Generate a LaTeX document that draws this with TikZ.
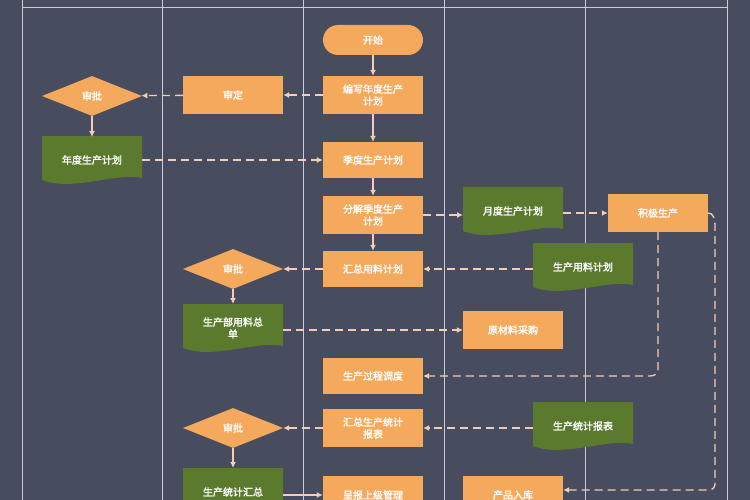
\documentclass[tikz,border=0pt]{standalone}
\usepackage{fontspec}
\newfontfamily\cjk[FakeBold=2]{Noto Sans CJK SC}
\usetikzlibrary{shapes.geometric,arrows.meta}
\definecolor{bgcol}{HTML}{474C5E}
\definecolor{boxcol}{HTML}{F5A95D}
\definecolor{doccol}{HTML}{5B7A2E}
\definecolor{linecol}{HTML}{F2CDB8}
\definecolor{lanecol}{HTML}{C9CCD4}
\newcommand{\docshape}[3]{%
  \fill[doccol] (#1-50,#2-24) -- (#1+50,#2-24) -- (#1+50,#2+18)
    .. controls (#1+25,#2+12) and (#1-20,#2+32) .. (#1-50,#2+20) -- cycle;
  \node[txt,text width=90pt,align=center] (#3) at (#1,#2) {};}
\begin{document}
\begin{tikzpicture}[x=1pt,y=-1pt,
  txt/.style={font=\cjk\fontsize{10}{12}\selectfont,text=white,inner sep=0pt},
  proc/.style={txt,fill=boxcol,minimum width=100pt,minimum height=38pt,text width=92pt,align=center},
  term/.style={proc,rounded corners=15pt,minimum height=30pt},
  check/.style={txt,diamond,fill=boxcol,aspect=2.5,minimum width=100pt,minimum height=40pt,inner sep=0pt},
  flow/.style={draw=linecol,line width=1.3pt,-{Latex[length=6pt,width=6pt]}},
  info/.style={flow,dash pattern=on 8pt off 5pt}]
\useasboundingbox (0,0) rectangle (750,500);
\clip (0,0) rectangle (750,500);
\fill[bgcol] (0,0) rectangle (750,500);
% swimlanes
\foreach \x in {22,162,303,444,585,727}
  \draw[lanecol,line width=0.8pt] (\x,0) -- (\x,500);
\draw[lanecol,line width=0.8pt] (22,7) -- (727,7);
% first column
\node[check] (chk1) at (92,96) {审批};
\docshape{92}{160}{year}
\node[txt] at (year) {年度生产计划};
% second column
\node[proc] (fix) at (233,95) {审定};
\node[check] (chk2) at (233,269) {审批};
\docshape{233}{328}{sumlist}
\node[txt,text width=90pt,align=center] at (sumlist) {生产部用料总\\单};
\node[check] (chk3) at (233,428) {审批};
\docshape{233}{492}{statsum}
\node[txt] at (statsum) {生产统计汇总};
% third column
\node[term] (start) at (373,40) {开始};
\node[proc] (write) at (373,95) {编写年度生产\\计划};
\node[proc,minimum height=36pt] (quarter) at (373,160) {季度生产计划};
\node[proc] (split) at (373,215) {分解季度生产\\计划};
\node[proc,minimum height=36pt] (summat) at (373,269) {汇总用料计划};
\node[proc,minimum height=36pt] (dispatch) at (373,376) {生产过程调度};
\node[proc] (sumstat) at (373,428) {汇总生产统计\\报表};
\node[proc] (report) at (373,495) {呈报上级管理};
% fourth column
\docshape{513}{211}{month}
\node[txt] at (month) {月度生产计划};
\node[proc] (buy) at (513,330) {原材料采购};
\node[proc] (store) at (513,495) {产品入库};
% fifth column
\node[proc,minimum height=38pt] (produce) at (658,213) {积极生产};
\docshape{583}{267}{matplan}
\node[txt] at (matplan) {生产用料计划};
\docshape{583}{426}{statrep}
\node[txt] at (statrep) {生产统计报表};
% connectors
\draw[flow] (start) -- (write);
\draw[flow] (write) -- (quarter);
\draw[flow] (quarter) -- (split);
\draw[flow] (split) -- (summat);
\draw[flow] (chk1) -- (92,137);
\draw[flow] (chk2) -- (233,304);
\draw[flow] (chk3) -- (233,468);
\draw[info] (write) -- (fix);
\draw[info] (fix) -- (chk1);
\draw[info] (142,160) -- (quarter);
\draw[info] (split) -- (463,215);
\draw[info] (563,213) -- (produce);
\draw[info] (533,269) -- (summat);
\draw[info] (summat) -- (chk2);
\draw[info] (283,330) -- (buy);
\draw[info] (533,428) -- (sumstat);
\draw[info] (sumstat) -- (chk3);
\draw[info] (produce.south) -- (658,370) to[out=-90,in=0] (650,376) -- (dispatch);
\draw[info] (produce.east) to[out=0,in=90] (715,225) -- (715,484) to[out=-90,in=0] (709,490) -- (store.east |- 0,490);
\draw[flow] (283,495) -- (report);
\end{tikzpicture}
\end{document}
